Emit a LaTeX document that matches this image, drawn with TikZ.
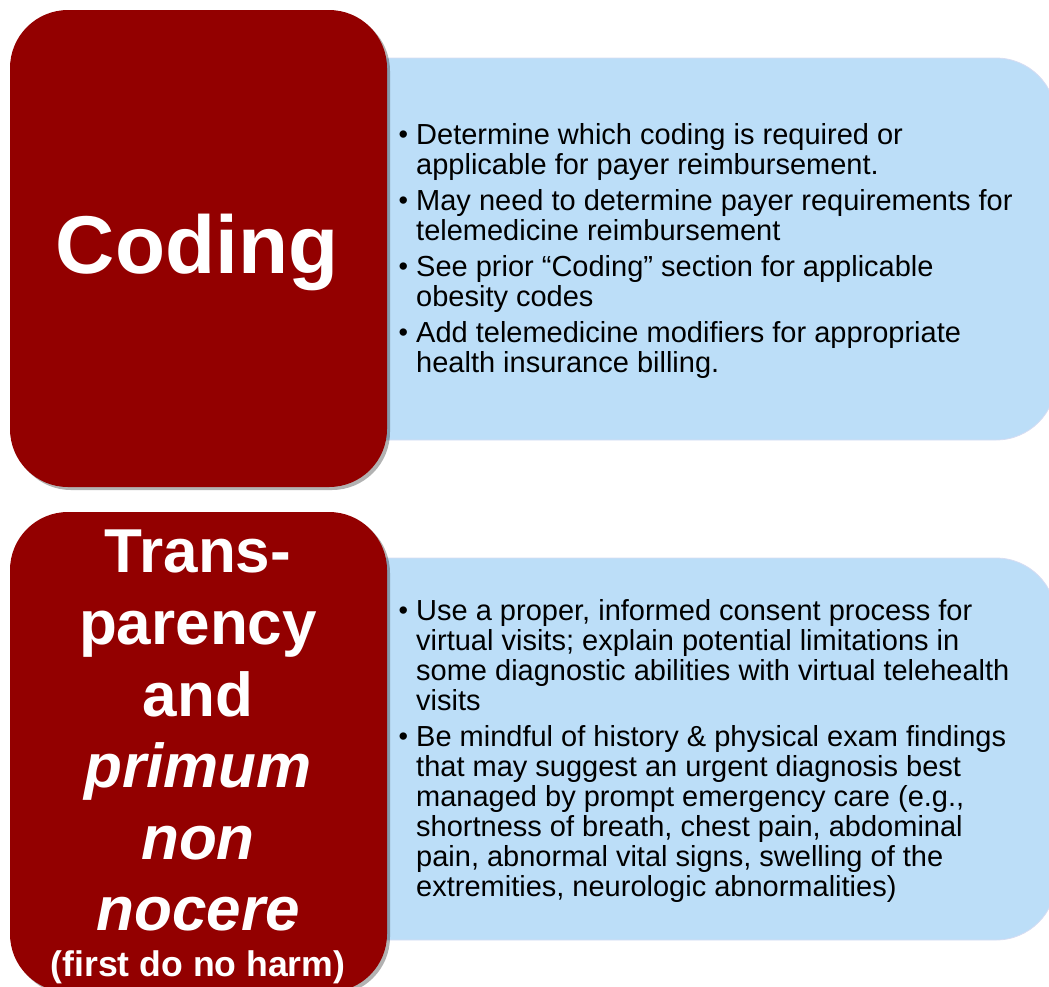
\documentclass[tikz,border=0pt]{standalone}
\usepackage{fontspec}
\setmainfont{Liberation Sans}
\usetikzlibrary{shadows}
\definecolor{boxred}{RGB}{147,0,0}
\definecolor{boxblue}{RGB}{188,222,248}
\definecolor{boxedge}{RGB}{214,220,242}
\newcommand{\bul}{\makebox[15pt][l]{\hspace*{-2.5pt}\raisebox{1.2pt}{\fontsize{27}{27}\selectfont\textbullet}}}
\newcommand{\ind}{\hspace*{15pt}}
\tikzset{
  redbox/.style={fill=boxred, draw=none, rounded corners=58pt,
    drop shadow={shadow xshift=3pt, shadow yshift=-3pt, fill=black, opacity=0.3}},
  bluebox/.style={fill=boxblue, draw=boxedge, line width=0.8pt, rounded corners=60pt},
  bodytext/.style={anchor=north west, inner sep=0pt, align=left, text=black,
    font=\fontsize{29}{30}\selectfont},
  titletext/.style={text=white, inner sep=0pt, align=center,
    font=\bfseries\fontsize{62}{71.6}\selectfont},
}
\begin{document}
\begin{tikzpicture}[x=1pt,y=-1pt]
\useasboundingbox (0,0) rectangle (1049,986);
% blue panels
\path[bluebox] (300,58) rectangle (1056,440);
\path[bluebox] (300,558) rectangle (1056,940);
% red panels
\path[redbox] (10,10) rectangle (387,487);
\path[redbox] (10,512) rectangle (387,992);
% titles
\node[text=white, inner sep=0pt, anchor=base, font=\bfseries\fontsize{82}{90}\selectfont] (coding) at (197,273) {Coding};
\node[titletext, anchor=north] (transp) at (198,530) {Trans-\\parency\\and\\\textit{primum}\\\textit{non}\\\textit{nocere}};
\node[text=white, inner sep=0pt, anchor=base, font=\bfseries\fontsize{35.6}{40}\selectfont] (harm) at (198,976) {(first do no harm)};
% body texts
\node[bodytext] (codingtext) at (401,123) {%
\bul Determine which coding is required or\\
\ind applicable for payer reimbursement.\\[6pt]
\bul May need to determine payer requirements for\\
\ind telemedicine reimbursement\\[6pt]
\bul See prior “Coding” section for applicable\\
\ind obesity codes\\[6pt]
\bul Add telemedicine modifiers for appropriate\\
\ind health insurance billing.};
\node[bodytext] (transptext) at (401,599) {%
\bul Use a proper, informed consent process for\\
\ind virtual visits; explain potential limitations in\\
\ind some diagnostic abilities with virtual telehealth\\
\ind visits\\[6pt]
\bul Be mindful of history \& physical exam findings\\
\ind that may suggest an urgent diagnosis best\\
\ind managed by prompt emergency care (e.g.,\\
\ind shortness of breath, chest pain, abdominal\\
\ind pain, abnormal vital signs, swelling of the\\
\ind extremities, neurologic abnormalities)};
\end{tikzpicture}
\end{document}
